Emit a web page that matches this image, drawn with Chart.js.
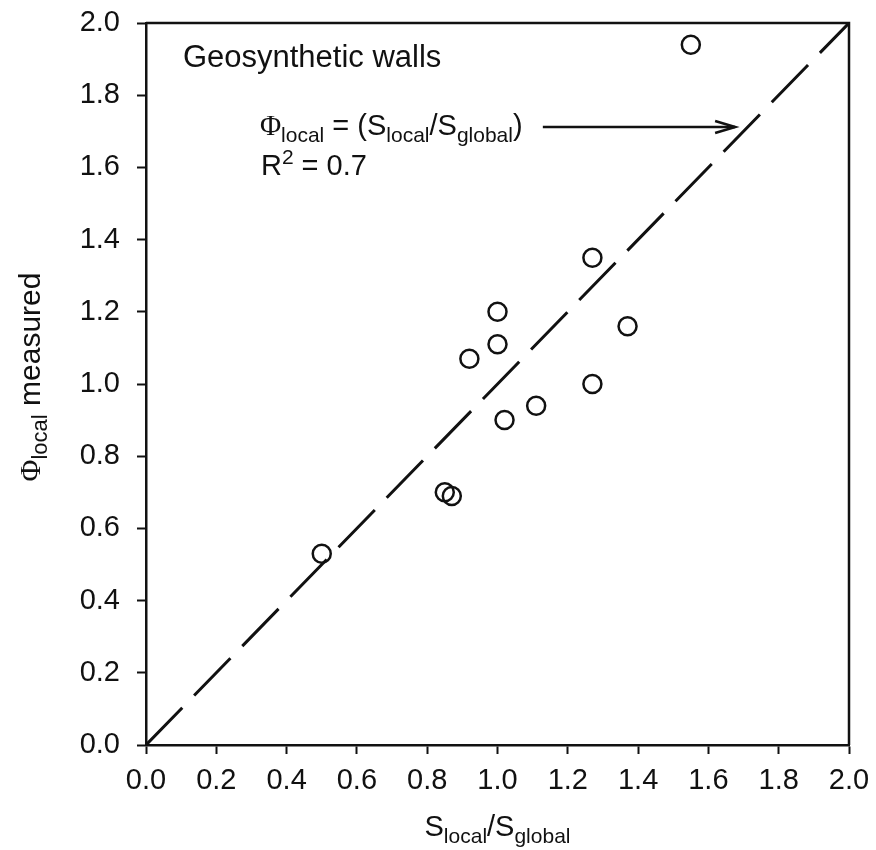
<!DOCTYPE html>
<html>
<head>
<meta charset="utf-8">
<script src="https://cdn.jsdelivr.net/npm/chart.js@4.4.1/dist/chart.umd.min.js"></script>
<style>
  body { margin: 0; background: #fff; }
  #wrap { width: 876px; height: 850px; }
</style>
</head>
<body>
<div id="wrap"><canvas id="chart" width="876" height="850"></canvas></div>
<script>
// S_local / S_global (x) and measured Phi_local (y)
const sRatio      = [1.55, 1.27, 1.00, 1.37, 1.00, 0.92, 1.27, 1.11, 1.02, 0.85, 0.87, 0.50];
const phiMeasured = [1.94, 1.35, 1.20, 1.16, 1.11, 1.07, 1.00, 0.94, 0.90, 0.70, 0.69, 0.53];

// 1:1 line  Phi_local = S_local / S_global
const fitX = [0, 2.0];
const fitY = [0, 2.0];

const axisMin = 0;
const axisMax = 2.0;
const tickStep = 0.2;

const INK = '#111';
const FONT = "'Liberation Sans', Arial, sans-serif";
const MAIN = 29;
const SMALL = 21;

// рисуем строку с индексами (sub / sup)
function partFont(p, base) {
  const main = base || MAIN;
  const size = (p.sub || p.sup) ? Math.round(main * SMALL / MAIN) : main;
  const fam = p.serif ? "'Liberation Serif', 'Times New Roman', serif" : FONT;
  return size + 'px ' + fam;
}
function richWidth(ctx, parts, base) {
  let w = 0;
  parts.forEach(p => {
    ctx.font = partFont(p, base);
    w += ctx.measureText(p.t).width;
  });
  return w;
}
function drawRich(ctx, parts, x, y, base) {
  let cx = x;
  ctx.textBaseline = 'alphabetic';
  ctx.textAlign = 'left';
  parts.forEach(p => {
    ctx.font = partFont(p, base);
    let dy = 0;
    if (p.sub) dy = 7;
    if (p.sup) dy = -11;
    ctx.fillText(p.t, cx, y + dy);
    cx += ctx.measureText(p.t).width;
  });
  return cx;
}

const phiLabel = [{ t: 'Φ', serif: true }, { t: 'local', sub: true }];
const xTitle = [{ t: 'S' }, { t: 'local', sub: true }, { t: '/S' }, { t: 'global', sub: true }];
const yTitle = phiLabel.concat([{ t: ' measured' }]);
const fitText = phiLabel.concat([{ t: ' = (S' }, { t: 'local', sub: true }, { t: '/S' }, { t: 'global', sub: true }, { t: ')' }]);
const r2Text = [{ t: 'R' }, { t: '2', sup: true }, { t: ' = 0.7' }];

// рамка, подписи осей и надписи
const decorations = {
  id: 'decorations',
  afterDraw(chart) {
    const { ctx, chartArea: { left, top, right, bottom } } = chart;
    const xs = chart.scales.x;
    const ys = chart.scales.y;
    ctx.save();
    ctx.strokeStyle = INK;
    ctx.fillStyle = INK;

    // верхняя и правая стороны рамки
    ctx.lineWidth = 2.5;
    ctx.beginPath();
    ctx.moveTo(left, top);
    ctx.lineTo(right, top);
    ctx.lineTo(right, bottom);
    ctx.stroke();

    // подпись оси X
    const xw = richWidth(ctx, xTitle);
    drawRich(ctx, xTitle, (left + right) / 2 - xw / 2, 836);

    // подпись оси Y (повёрнутая)
    const yw = richWidth(ctx, yTitle, 30);
    ctx.save();
    ctx.translate(40, (top + bottom) / 2 - 7);
    ctx.rotate(-Math.PI / 2);
    drawRich(ctx, yTitle, -yw / 2, 0, 30);
    ctx.restore();

    // надписи внутри поля
    drawRich(ctx, [{ t: 'Geosynthetic walls' }], xs.getPixelForValue(0.105), ys.getPixelForValue(1.878), 31);
    drawRich(ctx, fitText, xs.getPixelForValue(0.324), ys.getPixelForValue(1.69));
    drawRich(ctx, r2Text, xs.getPixelForValue(0.327), ys.getPixelForValue(1.578));

    // стрелка к линии 1:1
    const ax0 = xs.getPixelForValue(1.129);
    const ax1 = xs.getPixelForValue(1.676);
    const ay = ys.getPixelForValue(1.712);
    ctx.lineWidth = 2.6;
    ctx.beginPath();
    ctx.moveTo(ax0, ay);
    ctx.lineTo(ax1, ay);
    ctx.stroke();
    ctx.beginPath();
    ctx.moveTo(ax1 - 20, ay - 6);
    ctx.lineTo(ax1, ay);
    ctx.lineTo(ax1 - 20, ay + 6);
    ctx.stroke();

    ctx.restore();
  },
};

const tickFont = { family: FONT, size: MAIN };

new Chart(document.getElementById('chart'), {
  type: 'scatter',
  data: {
    datasets: [
      {
        label: 'measured',
        data: sRatio.map((v, i) => ({ x: v, y: phiMeasured[i] })),
        pointStyle: 'circle',
        pointRadius: 9,
        pointHoverRadius: 9,
        borderWidth: 2.5,
        borderColor: INK,
        backgroundColor: 'rgba(0,0,0,0)',
      },
      {
        label: '1:1',
        data: fitX.map((v, i) => ({ x: v, y: fitY[i] })),
        showLine: true,
        borderColor: INK,
        borderWidth: 3,
        borderDash: [52, 17],
        pointRadius: 0,
        fill: false,
      },
    ],
  },
  options: {
    responsive: false,
    animation: false,
    events: [],
    layout: { padding: { top: 23, right: 27, left: 0, bottom: 0 } },
    plugins: {
      legend: { display: false },
      tooltip: { enabled: false },
    },
    scales: {
      x: {
        type: 'linear',
        min: axisMin,
        max: axisMax,
        afterFit(scale) {
          scale.height = 105;
          scale.paddingLeft = 0;
          scale.paddingRight = 0;
        },
        border: { display: true, color: INK, width: 2.5 },
        grid: { display: true, drawOnChartArea: false, drawTicks: true, tickLength: 9, tickWidth: 2, color: INK },
        ticks: {
          stepSize: tickStep,
          color: INK,
          font: tickFont,
          padding: 10,
          maxRotation: 0,
          callback: (v) => Number(v).toFixed(1),
        },
      },
      y: {
        type: 'linear',
        min: axisMin,
        max: axisMax,
        afterFit(scale) {
          scale.width = 146;
          scale.paddingTop = 0;
          scale.paddingBottom = 0;
        },
        border: { display: true, color: INK, width: 2.5 },
        grid: { display: true, drawOnChartArea: false, drawTicks: true, tickLength: 9, tickWidth: 2, color: INK },
        ticks: {
          stepSize: tickStep,
          color: INK,
          font: tickFont,
          padding: 17,
          callback: (v) => Number(v).toFixed(1),
        },
      },
    },
  },
  plugins: [decorations],
});
</script>
</body>
</html>
